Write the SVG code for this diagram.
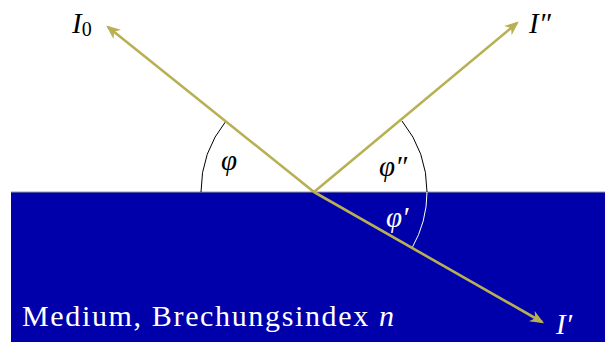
<svg xmlns="http://www.w3.org/2000/svg" width="605" height="342" viewBox="0 0 605 342">
<style>
.ray{stroke:#B8B052;stroke-width:2.6;fill:none}
.arc{fill:none;stroke-width:1}
</style>
<defs>
<marker id="ah" viewBox="0 0 12 10" refX="10" refY="5" markerWidth="5.5" markerHeight="4.6" orient="auto" markerUnits="strokeWidth">
<path d="M0,0 L12,5 L0,10 L3.5,5 Z" fill="#B8B052"/>
</marker>
</defs>
<g id="medium">
<rect x="11" y="192" width="594" height="150" fill="#0000AA"/>
<line x1="11" y1="192" x2="605" y2="192" stroke="#9a9a9a" stroke-width="1.2"/>
<text font-family="Liberation Serif" font-size="30" fill="#ffffff" x="22" y="326" textLength="372" lengthAdjust="spacing">Medium, Brechungsindex <tspan font-style="italic">n</tspan></text>
</g>
<g id="angles">
<path class="arc" stroke="#000" d="M201,192 A113,113 0 0 1 226,121"/>
<path class="arc" stroke="#000" d="M402,121 A113,113 0 0 1 427,192"/>
<path class="arc" stroke="#fff" d="M427,192 A113,113 0 0 1 412,248"/>
<text font-family="Liberation Serif" font-style="italic" font-size="29" x="221" y="170" fill="#000">φ</text>
<text font-family="Liberation Serif" font-style="italic" font-size="29" x="379" y="176" fill="#000">φ″</text>
<text font-family="Liberation Serif" font-style="italic" font-size="29" x="386" y="227" fill="#fff">φ′</text>
</g>
<g id="connectors">
<line class="ray" x1="314" y1="192" x2="108" y2="27" marker-end="url(#ah)"/>
<line class="ray" x1="314" y1="192" x2="517" y2="23" marker-end="url(#ah)"/>
<line class="ray" x1="314" y1="192" x2="542" y2="322" marker-end="url(#ah)"/>
</g>
<g id="I0"><text font-family="Liberation Serif" font-style="italic" font-size="29" x="72" y="33" fill="#000">I<tspan font-style="normal" font-size="20" dy="3">0</tspan></text></g>
<g id="I2"><text font-family="Liberation Serif" font-style="italic" font-size="29" x="529" y="33" fill="#000">I″</text></g>
<g id="I1"><text font-family="Liberation Serif" font-style="italic" font-size="29" x="556" y="334" fill="#fff">I′</text></g>
</svg>
